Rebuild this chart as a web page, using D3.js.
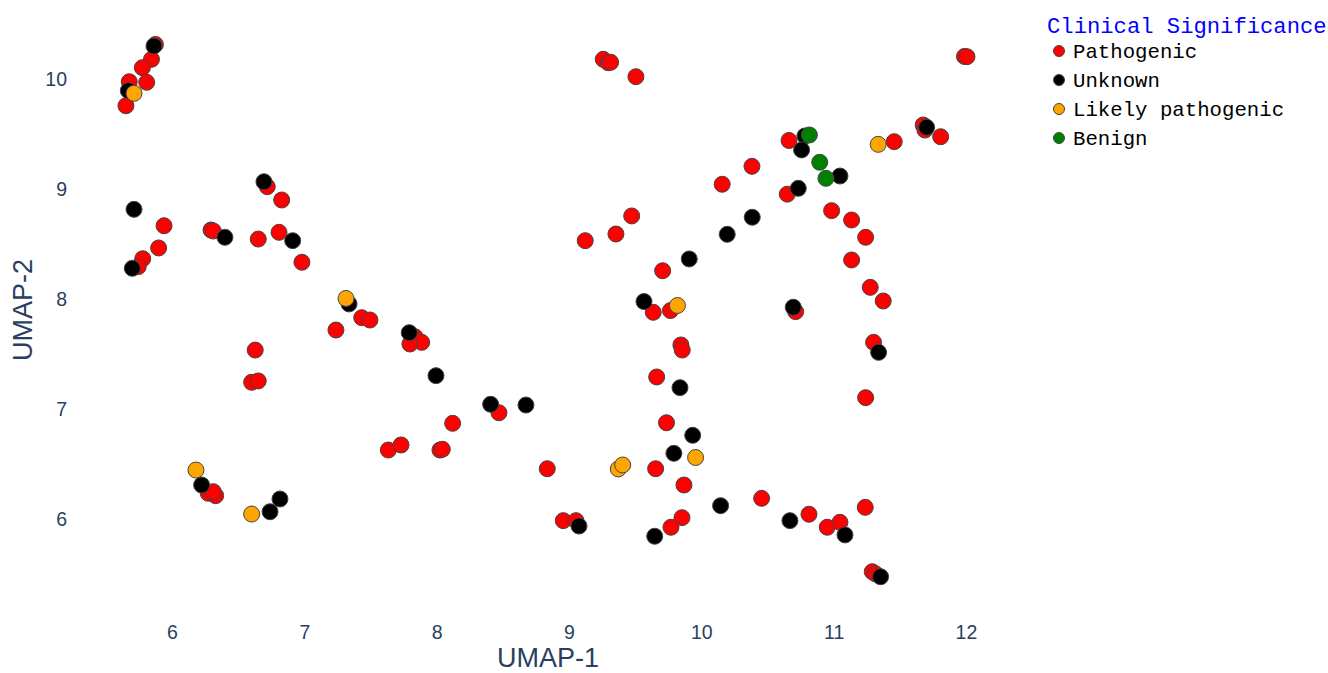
<!DOCTYPE html>
<html>
<head>
<meta charset="utf-8">
<script src="https://cdn.jsdelivr.net/npm/d3@7"></script>
<style>
  html, body { margin: 0; padding: 0; background: #fff; }
  svg { display: block; }
</style>
</head>
<body>
<svg id="chart" width="1328" height="673"></svg>
<script>
// ---- Data (UMAP-1, UMAP-2) ----
const categories = ["Pathogenic", "Unknown", "Likely pathogenic", "Benign"];
const categoryColors = ["#ff0000", "#000000", "#ffa500", "#008000"];

const pathogenicX = [5.875,5.845,5.776,5.677,5.809,5.652,6.720,6.829,5.940,6.295,6.312,6.652,6.809,6.982,5.899,5.779,5.745,
  7.434,7.496,7.239,7.836,7.887,7.798,8.471,8.121,7.635,7.731,8.025,8.043,8.836,9.655,8.957,9.053,9.637,9.767,9.663,9.846,9.856,
  9.737,9.869,9.854,9.771,9.708,9.259,9.297,9.315,9.506,10.158,10.383,9.474,9.355,9.123,10.663,10.650,10.985,11.136,11.242,11.136,
  11.277,11.375,10.713,11.302,11.242,11.458,11.677,11.690,11.809,11.989,12.008,10.456,10.814,11.048,10.952,11.239,11.292,11.318,
  6.629,6.602,6.652,6.274,6.330,6.312];
const pathogenicY = [10.314,10.179,10.103,9.975,9.970,9.757,9.021,8.900,8.666,8.627,8.618,8.545,8.606,8.334,8.464,8.366,8.294,
  7.830,7.809,7.718,7.657,7.606,7.591,6.966,6.870,6.627,6.673,6.627,6.634,6.457,6.457,5.985,5.985,7.879,7.895,7.291,7.582,7.536,
  6.875,6.309,6.012,5.925,8.257,10.179,10.148,10.152,10.021,9.043,9.206,8.755,8.591,8.530,9.441,8.953,8.803,8.718,8.561,8.355,
  8.106,7.982,7.885,7.606,7.103,9.430,9.582,9.536,9.475,10.205,10.203,6.188,6.043,5.970,5.925,6.106,5.521,5.500,
  7.536,7.243,7.255,6.234,6.212,6.248];

const unknownX = [5.864,5.670,6.695,5.713,6.400,6.912,5.700,7.338,7.793,7.995,8.408,8.675,9.567,9.909,9.839,9.935,9.793,10.146,
  9.648,9.076,6.224,6.741,6.816,10.783,10.758,10.733,11.048,10.385,10.196,10.695,11.340,11.703,10.670,11.086,11.355];
const unknownY = [10.300,9.894,9.066,8.815,8.561,8.530,8.279,7.955,7.694,7.303,7.043,7.036,7.977,8.364,7.194,6.761,6.597,6.121,
  5.843,5.936,6.309,6.066,6.182,9.482,9.355,9.006,9.118,8.743,8.588,7.925,7.515,9.561,5.985,5.855,5.475];

const likelyPathogenicX = [5.713,7.315,9.820,9.373,9.406,9.957,6.181,6.602,11.337];
const likelyPathogenicY = [9.870,8.005,7.941,6.455,6.491,6.559,6.445,6.045,9.406];

const benignX = [10.817,10.895,10.942];
const benignY = [9.491,9.243,9.097];

const xTicks = [6, 7, 8, 9, 10, 11, 12];
const yTicks = [6, 7, 8, 9, 10];
const xTitle = "UMAP-1";
const yTitle = "UMAP-2";
const legendTitle = "Clinical Significance";

// ---- Layout ----
const W = 1328, H = 673;
const plot = { left: 80, right: 1016, top: 15, bottom: 605 };

const x = d3.scaleLinear().domain([5.3048, 12.3784]).range([plot.left, plot.right]);
const y = d3.scaleLinear().domain([5.2182, 10.5818]).range([plot.bottom, plot.top]);

const svg = d3.select("#chart");
svg.append("rect").attr("width", W).attr("height", H).attr("fill", "#fff");

const tickFont = "'Liberation Sans', Arial, sans-serif";
const tickColor = "#2a3f5f";

// X axis
const xAxis = d3.axisBottom(x).tickValues(xTicks).tickSize(0).tickPadding(0).tickFormat(d3.format("d"));
const gx = svg.append("g").attr("transform", `translate(0,${plot.bottom})`).call(xAxis);
gx.select(".domain").remove();
gx.selectAll("text")
  .attr("y", 27).attr("dy", "0.35em")
  .attr("font-family", tickFont).attr("font-size", 19.5).attr("fill", tickColor);

// Y axis
const yAxis = d3.axisLeft(y).tickValues(yTicks).tickSize(0).tickPadding(0).tickFormat(d3.format("d"));
const gy = svg.append("g").attr("transform", `translate(${plot.left},0)`).call(yAxis);
gy.select(".domain").remove();
gy.selectAll("text")
  .attr("x", -13).attr("dy", "0.35em")
  .attr("font-family", tickFont).attr("font-size", 19.5).attr("fill", tickColor);

// Axis titles
svg.append("text")
  .attr("x", (plot.left + plot.right) / 2).attr("y", 667)
  .attr("text-anchor", "middle")
  .attr("font-family", tickFont).attr("font-size", 27).attr("fill", tickColor)
  .text(xTitle);
svg.append("text")
  .attr("transform", `translate(23,${(plot.top + plot.bottom) / 2}) rotate(-90)`)
  .attr("dy", "0.35em")
  .attr("text-anchor", "middle")
  .attr("font-family", tickFont).attr("font-size", 27).attr("fill", tickColor)
  .text(yTitle);

// ---- Points ----
const series = [
  { name: categories[0], color: categoryColors[0], xs: pathogenicX, ys: pathogenicY },
  { name: categories[1], color: categoryColors[1], xs: unknownX, ys: unknownY },
  { name: categories[2], color: categoryColors[2], xs: likelyPathogenicX, ys: likelyPathogenicY },
  { name: categories[3], color: categoryColors[3], xs: benignX, ys: benignY }
];

const pts = svg.append("g");
series.forEach(s => {
  const data = s.xs.map((v, i) => [v, s.ys[i]]);
  pts.append("g").selectAll("circle").data(data).join("circle")
    .attr("cx", d => x(d[0])).attr("cy", d => y(d[1]))
    .attr("r", 8)
    .attr("fill", s.color)
    .attr("stroke", "#444")
    .attr("stroke-width", 1);
});

// ---- Legend ----
const monoFont = "'Liberation Mono', 'Courier New', monospace";
const lg = svg.append("g");
lg.append("text")
  .attr("x", 1047).attr("y", 25).attr("dy", "0.35em")
  .attr("font-family", monoFont).attr("font-size", 22.2).attr("fill", "#0000ff")
  .text(legendTitle);
series.forEach((s, i) => {
  const yy = 51 + i * 29;
  lg.append("circle").attr("cx", 1059).attr("cy", yy).attr("r", 5.5)
    .attr("fill", s.color).attr("stroke", "#444").attr("stroke-width", 1);
  lg.append("text").attr("x", 1073).attr("y", yy).attr("dy", "0.35em")
    .attr("font-family", monoFont).attr("font-size", 20.7).attr("fill", "#000")
    .text(s.name);
});
</script>
</body>
</html>
